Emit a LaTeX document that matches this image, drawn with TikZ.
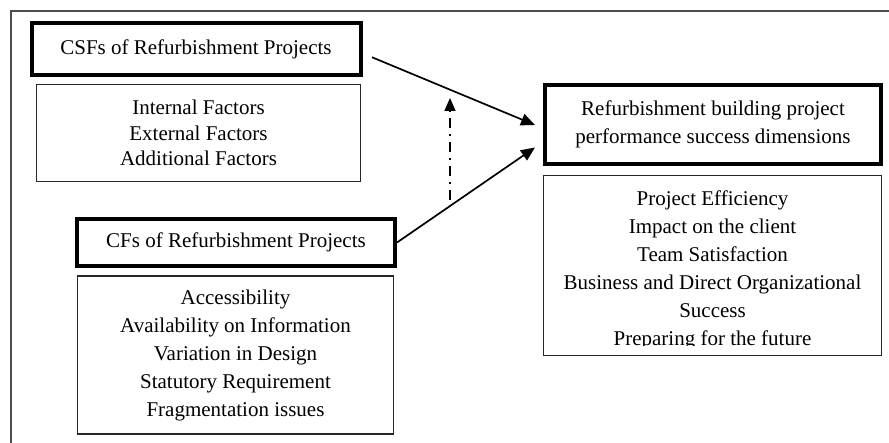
\documentclass[tikz,border=0pt]{standalone}
\usepackage{fontspec}
\setmainfont{Liberation Serif}
\usetikzlibrary{arrows.meta,calc}

\tikzset{
  boxtext/.style={font=\fontsize{21}{28}\selectfont, align=center, text=black},
  headbox/.style={draw=black, line width=4pt, inner sep=0pt, boxtext},
  listbox/.style={draw=black!85, line width=1.4pt, inner sep=0pt, boxtext},
  linkarrow/.style={line width=1.7pt, -{Triangle[length=14pt,width=12pt]}},
  hintarrow/.style={line width=1.6pt, dash pattern=on 10pt off 6pt on 2pt off 6pt,
                    -{Triangle[length=13pt,width=11pt]}},
  framerule/.style={draw=black!70, line width=1.3pt}
}

\begin{document}
\begin{tikzpicture}[x=1pt,y=-1pt]
  \useasboundingbox (0,0) rectangle (889,443);

  % outer frame (top and left rules only)
  \draw[framerule] (11,443) -- (11,11) -- (889,11);

  % critical success factors
  \node[headbox, minimum width=329pt, minimum height=51.5pt] (csf) at (196,49.25)
    {CSFs of Refurbishment Projects};
  \node[listbox, minimum width=324pt, minimum height=97pt,
        font=\fontsize{21}{25.5}\selectfont] (csflist) at (198.5,133)
    {Internal Factors\\External Factors\\Additional Factors};

  % critical factors
  \node[headbox, minimum width=318pt, minimum height=47pt] (cf) at (236,242.5)
    {CFs of Refurbishment Projects};
  \node[listbox, minimum width=316pt, minimum height=158pt] (cflist) at (235.5,355)
    {Accessibility\\Availability on Information\\Variation in Design\\Statutory Requirement\\Fragmentation issues};

  % performance dimensions
  \node[headbox, minimum width=336pt, minimum height=79pt] (perf) at (713,124.5)
    {Refurbishment building project\\performance success dimensions};
  \node[listbox, minimum width=337.6pt, minimum height=179.6pt] (perflist) at (712.5,265.5) {};
  \begin{scope}
    \clip ($(perflist.south west)+(2,-10)$) rectangle ($(perflist.north east)+(-2,2)$);
    \node[boxtext, inner sep=0pt] (perftext) at (712.5,270)
      {Project Efficiency\\Impact on the client\\Team Satisfaction\\Business and Direct Organizational\\Success\\Preparing for the future};
  \end{scope}

  % connectors
  \draw[linkarrow] ($(csf.east)+(9.5,8)$) -- ($(perf.west)+(-8,0.5)$);
  \draw[linkarrow] (cf.east) -- ($(perf.west)+(-8,23)$);
  \coordinate (hintbase) at (450,200);
  \coordinate (hinttip) at (450,98);
  \draw[hintarrow] (hintbase) -- (hinttip);
\end{tikzpicture}
\end{document}
